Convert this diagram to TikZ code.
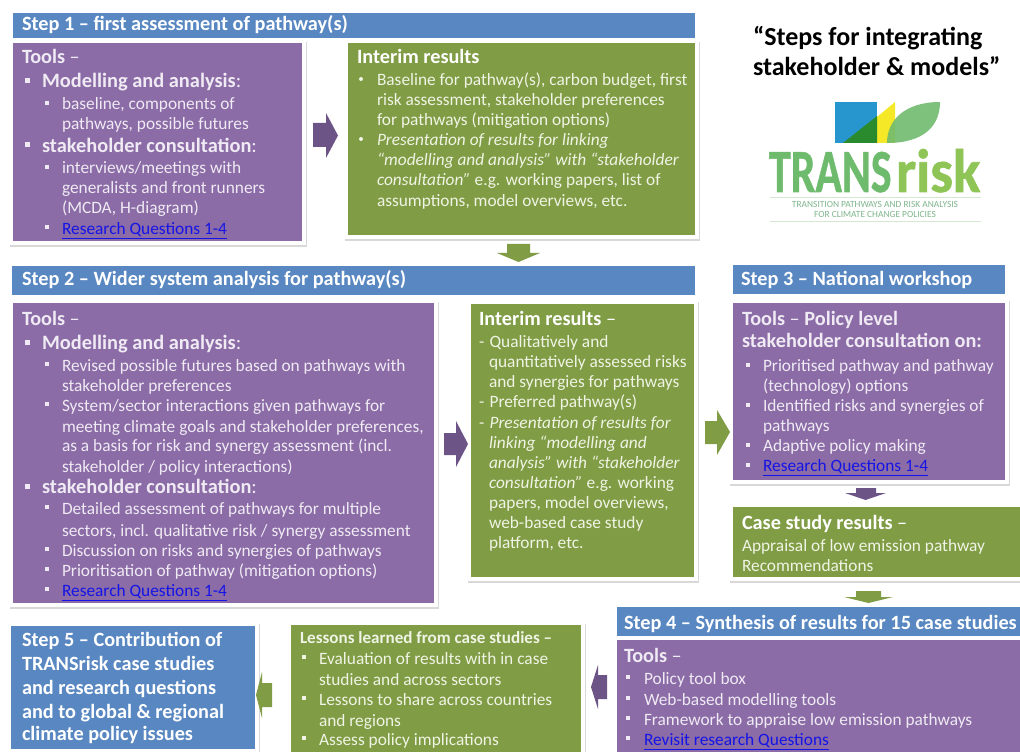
\documentclass[tikz,border=0pt]{standalone}
\usepackage{fontspec}
\setmainfont{Carlito}
\usetikzlibrary{shadows}
\definecolor{purp}{HTML}{8B6CA7}
\definecolor{purpd}{HTML}{6C5586}
\definecolor{grn}{HTML}{809C45}
\definecolor{blu}{HTML}{5887C1}
\definecolor{lpurp}{HTML}{EFEAF3}
\definecolor{lgrn}{HTML}{F0F4E4}
\definecolor{lnk}{HTML}{1414E6}
\definecolor{lgblue}{HTML}{2796CF}
\definecolor{lgyel}{HTML}{F4E827}
\definecolor{lgdark}{HTML}{2A8A2E}
\definecolor{lgleaf}{HTML}{6FBB6E}
\definecolor{lgrisk}{HTML}{8FC556}
\definecolor{lgline}{HTML}{D5E6D2}
\definecolor{lgsub}{HTML}{7FB58C}
\newcounter{tln}
\newcommand{\body}{\fontsize{13}{16}\selectfont}
\newcommand{\head}{\fontsize{15.2}{18}\selectfont\bfseries}
\newcommand{\sub}{\fontsize{15.3}{18}\selectfont\bfseries}
\newcommand{\inter}{\fontsize{15.2}{18}\selectfont\bfseries}
\tikzset{x=0.75pt,y=-0.75pt,
 frame/.style={fill=white,draw=none,drop shadow={shadow xshift=1pt,shadow yshift=-1.2pt,opacity=.3,fill=black!50}},
 tl/.style={anchor=base west,inner sep=0pt,outer sep=0pt,text=#1},
 tl/.default=white}
% \Bx{name}{colour}{x1}{y1}{x2}{y2}
\newcommand{\Bx}[6]{\pgfmathsetmacro{\bw}{(#5-#3)*0.75}\pgfmathsetmacro{\bh}{(#6-#4)*0.75}%
 \node[fill=#2,draw=none,inner sep=0pt,outer sep=0pt,minimum width=\bw pt,minimum height=\bh pt] (#1) at ({(#3+#5)/2},{(#4+#6)/2}) {};}
% \T{colour}{x}{baseline}{text}
\newcommand{\T}[4]{\stepcounter{tln}\node[tl=#1] (t\arabic{tln}) at (#2,#3+1) {#4};}
\newcommand{\B}[3]{\fill[#1] (#2-2.5,#3-2.5) rectangle (#2+2.5,#3+2.5);}
\newcommand{\Bs}[3]{\fill[#1] (#2-2,#3-2) rectangle (#2+2,#3+2);}
\newcommand{\Bc}[3]{\fill[#1] (#2,#3) circle[radius=2];}
\begin{document}
\begin{tikzpicture}
\useasboundingbox (0,0) rectangle (1020,752);
\fill[white] (0,0) rectangle (1020,752);
% frames
\fill[frame] (9,40) rectangle (306,245);
\fill[frame] (344,40) rectangle (699,239);
\fill[frame] (9,300) rectangle (438,607);
\fill[frame] (467,300) rectangle (698,581);
\fill[frame] (729,299) rectangle (1009,484);
\fill[frame] (729,503) rectangle (1024,581);
\fill[frame] (7,622) rectangle (259,760);
\fill[frame] (287,622) rectangle (585,760);
\fill[frame] (613,604) rectangle (1030,760);
% boxes
\Bx{h1}{blu}{13}{13}{695}{38}
\Bx{p1}{purp}{13}{43}{302}{241}
\Bx{g1}{grn}{348}{43}{695}{235}
\Bx{h2}{blu}{12}{266}{695}{295}
\Bx{p2}{purp}{13}{303}{434}{603}
\Bx{g2}{grn}{471}{304}{694}{577}
\Bx{h3}{blu}{733}{265}{1005}{294}
\Bx{p3}{purp}{733}{303}{1005}{480}
\Bx{g3}{grn}{733}{507}{1020}{577}
\Bx{h4}{blu}{617}{607}{1020}{636}
\Bx{p4}{purp}{617}{640}{1020}{752}
\Bx{g4}{grn}{291}{625}{581}{752}
\Bx{h5}{blu}{11}{626}{255}{749}
% block arrows
\fill[purpd] (313,123) -- (326,123) -- (326,113) -- (338,135.5) -- (326,158) -- (326,147) -- (313,147) -- cycle;
\fill[purpd] (444,433) -- (456,433) -- (456,421) -- (468,444) -- (456,467) -- (456,455) -- (444,455) -- cycle;
\fill[grn] (705,421) -- (717,421) -- (717,410) -- (730,432) -- (717,455) -- (717,444) -- (705,444) -- cycle;
\fill[grn] (507,244) -- (530,244) -- (530,253) -- (540,253) -- (518.5,262) -- (497,253) -- (507,253) -- cycle;
\fill[purpd] (856,488) -- (876,488) -- (876,493) -- (886,493) -- (865.5,500) -- (845,493) -- (856,493) -- cycle;
\fill[grn] (856,591) -- (881,591) -- (881,597) -- (893,597) -- (868.5,603) -- (844,597) -- (856,597) -- cycle;
\fill[purpd] (607,675) -- (598,675) -- (598,665) -- (591,687) -- (598,709) -- (598,699) -- (607,699) -- cycle;
\fill[grn] (272,683) -- (262,683) -- (262,672) -- (256,695) -- (262,718) -- (262,707) -- (272,707) -- cycle;
% title
\T{black}{753}{45}{\fontsize{19.5}{23}\selectfont\bfseries “Steps for integrating}
\T{black}{753}{75}{\fontsize{19.5}{23}\selectfont\bfseries stakeholder \& models”}
% logo
\fill[lgblue] (835,102) rectangle (877,143);
\fill[lgyel] (877,117) -- (895,102) -- (895,143) -- (877,143) -- cycle;
\fill[lgdark] (843,143) -- (877,116) -- (877,143) -- cycle;
\fill[lgleaf,fill opacity=.9] (887,143) .. controls (887,120) and (905,102) .. (940,102) .. controls (940,125) and (925,143) .. (887,143) -- cycle;
\node[tl=lgleaf,xscale=.715] (logoa) at (769,192) {\fontsize{46}{50}\selectfont\bfseries\addfontfeature{FakeBold=1}TRANS};
\node[tl=lgrisk,xscale=.93] (logob) at (896,192) {\fontsize{46}{50}\selectfont\bfseries\addfontfeature{FakeBold=1}risk};
\draw[lgline] (770,197) -- (981,197);
\draw[lgline] (770,221) -- (981,221);
\node[anchor=base,inner sep=0pt,text=lgsub] (logoc) at (875,208) {\fontsize{7.05}{8}\selectfont TRANSITION PATHWAYS AND RISK ANALYSIS};
\node[anchor=base,inner sep=0pt,text=lgsub] (logod) at (875,218) {\fontsize{7.05}{8}\selectfont FOR CLIMATE CHANGE POLICIES};
% Step 1
\T{white}{22}{30}{\head Step 1 – first assessment of pathway(s)}
\T{lpurp}{22}{63}{\inter Tools \textmd{–}}
\B{lpurp}{27}{81} \T{lpurp}{42}{87}{\sub Modelling and analysis\textmd{:}}
\Bs{lpurp}{47}{103} \T{lpurp}{62}{109}{\body baseline, components of}
\T{lpurp}{62}{129}{\body pathways, possible futures}
\B{lpurp}{27}{145} \T{lpurp}{42}{152}{\sub stakeholder consultation\textmd{:}}
\Bs{lpurp}{47}{167} \T{lpurp}{62}{173}{\body interviews/meetings with}
\T{lpurp}{62}{193}{\body generalists and front runners}
\T{lpurp}{62}{213}{\body (MCDA, H-diagram)}
\Bs{lpurp}{47}{227} \T{lnk}{62}{233}{\body\underline{Research Questions 1-4}}
% Interim 1
\T{white}{357}{63}{\inter Interim results}
\Bc{lgrn}{361}{79} \T{lgrn}{377}{85}{\body Baseline for pathway(s), carbon budget, first}
\T{lgrn}{377}{105}{\body risk assessment, stakeholder preferences}
\T{lgrn}{377}{125}{\body for pathways (mitigation options)}
\Bc{lgrn}{361}{139} \T{lgrn}{377}{145}{\body\itshape Presentation of results for linking}
\T{lgrn}{377}{165}{\body\itshape “modelling and analysis” with “stakeholder}
\T{lgrn}{377}{185}{\body\itshape consultation” \textup{e.g. working papers, list of}}
\T{lgrn}{377}{206}{\body assumptions, model overviews, etc.}
% Step 2
\T{white}{22}{285}{\head Step 2 – Wider system analysis for pathway(s)}
\T{lpurp}{22}{324}{\inter Tools \textmd{–}}
\B{lpurp}{27}{342} \T{lpurp}{42}{348}{\sub Modelling and analysis\textmd{:}}
\Bs{lpurp}{47}{364} \T{lpurp}{62}{370}{\body Revised possible futures based on pathways with}
\T{lpurp}{62}{390}{\body stakeholder preferences}
\Bs{lpurp}{47}{404} \T{lpurp}{62}{410}{\body System/sector interactions given pathways for}
\T{lpurp}{62}{431}{\body meeting climate goals and stakeholder preferences,}
\T{lpurp}{62}{450}{\body as a basis for risk and synergy assessment (incl.}
\T{lpurp}{62}{471}{\body stakeholder / policy interactions)}
\B{lpurp}{27}{486} \T{lpurp}{42}{492}{\sub stakeholder consultation\textmd{:}}
\Bs{lpurp}{47}{507} \T{lpurp}{62}{513}{\body Detailed assessment of pathways for multiple}
\T{lpurp}{62}{535}{\body sectors, incl. qualitative risk / synergy assessment}
\Bs{lpurp}{47}{549} \T{lpurp}{62}{555}{\body Discussion on risks and synergies of pathways}
\Bs{lpurp}{47}{569} \T{lpurp}{62}{575}{\body Prioritisation of pathway (mitigation options)}
\Bs{lpurp}{47}{589} \T{lnk}{62}{595}{\body\underline{Research Questions 1-4}}
% Interim 2
\T{white}{479}{324}{\inter Interim results\textmd{ –}}
\T{lgrn}{479}{346}{\body - \hspace{1pt}Qualitatively and}
\T{lgrn}{489}{366}{\body quantitatively assessed risks}
\T{lgrn}{489}{386}{\body and synergies for pathways}
\T{lgrn}{479}{406}{\body - \hspace{1pt}Preferred pathway(s)}
\T{lgrn}{479}{427}{\body - \hspace{1pt}\itshape Presentation of results for}
\T{lgrn}{489}{447}{\body\itshape linking “modelling and}
\T{lgrn}{489}{467}{\body\itshape analysis” with “stakeholder}
\T{lgrn}{489}{487}{\body\itshape consultation” \textup{e.g. working}}
\T{lgrn}{489}{507}{\body papers, model overviews,}
\T{lgrn}{489}{527}{\body web-based case study}
\T{lgrn}{489}{547}{\body platform, etc.}
% Step 3
\T{white}{741}{285}{\head Step 3 – National workshop}
\T{lpurp}{742}{324}{\inter Tools \textmd{–} Policy level}
\T{lpurp}{742}{346}{\inter stakeholder consultation on:}
\Bs{lpurp}{748}{365} \T{lpurp}{763}{370}{\body Prioritised pathway and pathway}
\T{lpurp}{763}{390}{\body (technology) options}
\Bs{lpurp}{748}{405} \T{lpurp}{763}{410}{\body Identified risks and synergies of}
\T{lpurp}{763}{430}{\body pathways}
\Bs{lpurp}{748}{445} \T{lpurp}{763}{450}{\body Adaptive policy making}
\Bs{lpurp}{748}{465} \T{lnk}{763}{470}{\body\underline{Research Questions 1-4}}
% Case study
\T{white}{742}{528}{\inter Case study results \textmd{–}}
\T{lgrn}{742}{550}{\body Appraisal of low emission pathway}
\T{lgrn}{742}{570}{\body Recommendations}
% Step 4
\T{white}{624}{628}{\head Step 4 – Synthesis of results for 15 case studies}
\T{lpurp}{624}{661}{\inter Tools \textmd{–}}
\Bs{lpurp}{628}{677} \T{lpurp}{644}{683}{\body Policy tool box}
\Bs{lpurp}{628}{698} \T{lpurp}{644}{704}{\body Web-based modelling tools}
\Bs{lpurp}{628}{718} \T{lpurp}{644}{724}{\body Framework to appraise low emission pathways}
\Bs{lpurp}{628}{738} \T{lnk}{644}{744}{\body\underline{Revisit research Questions}}
% Lessons
\T{lgrn}{300}{642}{\fontsize{12.8}{15}\selectfont\bfseries Lessons learned from case studies –}
\Bs{lgrn}{304}{657} \T{lgrn}{319}{663}{\body Evaluation of results with in case}
\T{lgrn}{319}{684}{\body studies and across sectors}
\Bs{lgrn}{304}{698} \T{lgrn}{319}{704}{\body Lessons to share across countries}
\T{lgrn}{319}{725}{\body and regions}
\Bs{lgrn}{304}{738} \T{lgrn}{319}{744}{\body Assess policy implications}
% Step 5
\T{white}{22}{645}{\fontsize{15.2}{18}\selectfont\bfseries Step 5 – Contribution of}
\T{white}{22}{669}{\fontsize{15.2}{18}\selectfont\bfseries TRANSrisk case studies}
\T{white}{22}{693}{\fontsize{15.2}{18}\selectfont\bfseries and research questions}
\T{white}{22}{717}{\fontsize{15.2}{18}\selectfont\bfseries and to global \& regional}
\T{white}{22}{739}{\fontsize{15.2}{18}\selectfont\bfseries climate policy issues}
\end{tikzpicture}
\end{document}
